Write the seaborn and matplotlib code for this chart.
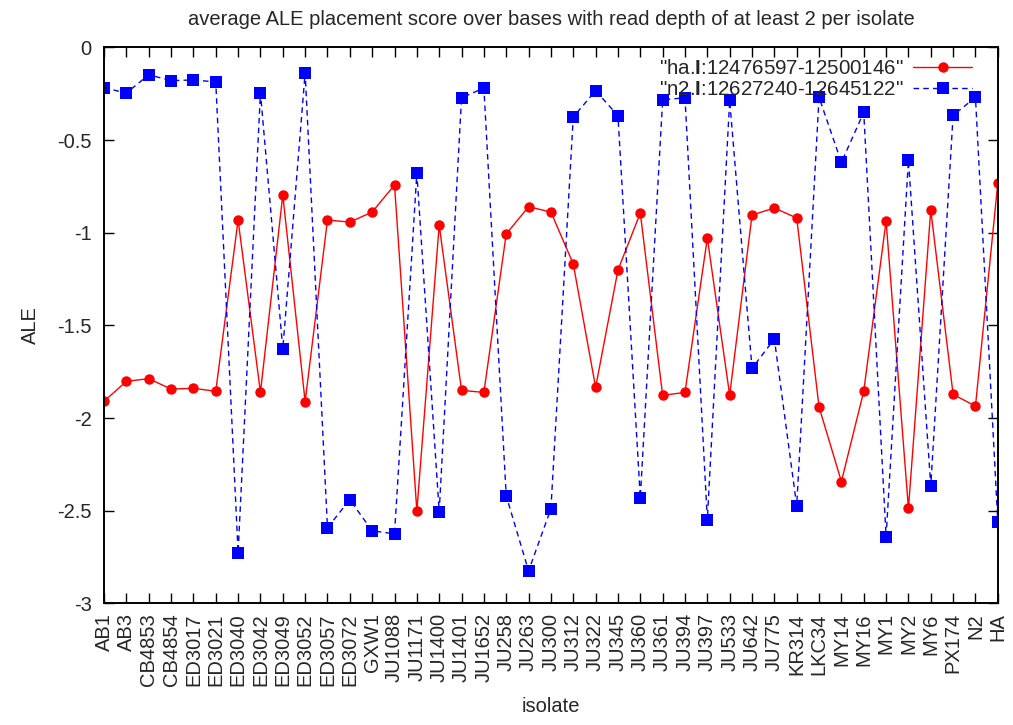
import matplotlib
matplotlib.use("Agg")
import matplotlib.pyplot as plt
import seaborn as sns
import pandas as pd

isolates = ["AB1", "AB3", "CB4853", "CB4854", "ED3017", "ED3021", "ED3040",
            "ED3042", "ED3049", "ED3052", "ED3057", "ED3072", "GXW1", "JU1088",
            "JU1171", "JU1400", "JU1401", "JU1652", "JU258", "JU263", "JU300",
            "JU312", "JU322", "JU345", "JU360", "JU361", "JU394", "JU397",
            "JU533", "JU642", "JU775", "KR314", "LKC34", "MY14", "MY16", "MY1",
            "MY2", "MY6", "PX174", "N2", "HA"]

ha_ale = [-1.909, -1.801, -1.787, -1.843, -1.839, -1.855, -0.931,
          -1.861, -0.796, -1.911, -0.931, -0.942, -0.888, -0.742,
          -2.501, -0.958, -1.850, -1.861, -1.006, -0.859, -0.888,
          -1.168, -1.834, -1.201, -0.893, -1.877, -1.861, -1.028,
          -1.876, -0.904, -0.866, -0.920, -1.940, -2.342, -1.855, -0.936,
          -2.487, -0.877, -1.872, -1.935, -0.732]

n2_ale = [-0.217, -0.246, -0.147, -0.179, -0.175, -0.186, -2.726,
          -0.244, -1.627, -0.136, -2.591, -2.440, -2.608, -2.624,
          -0.677, -2.505, -0.271, -0.219, -2.419, -2.824, -2.489,
          -0.375, -0.233, -0.368, -2.430, -0.283, -0.271, -2.548,
          -0.285, -1.731, -1.573, -2.473, -0.269, -0.620, -0.350, -2.640,
          -0.608, -2.365, -0.366, -0.269, -2.559]

ha_label = '"ha.$\\mathbf{I}$:12476597-12500146"'
n2_label = '"n2.$\\mathbf{I}$:12627240-12645122"'

sns.set_style("ticks")
plt.rcParams["font.family"] = ["Liberation Sans", "DejaVu Sans"]
plt.rcParams["mathtext.fontset"] = "custom"
plt.rcParams["mathtext.rm"] = "Liberation Sans"
plt.rcParams["mathtext.bf"] = "Liberation Sans:bold"

df = pd.DataFrame({"isolate": isolates, "ha": ha_ale, "n2": n2_ale})

fig = plt.figure(figsize=(10.13, 7.25), dpi=100)
ax = fig.add_axes([0.1027, 0.1676, 0.8823, 0.7669])

sns.lineplot(data=df, x="isolate", y="ha", ax=ax, color="#ff0000",
             linewidth=1.0, marker="o", markersize=7.5, markeredgewidth=0,
             label=ha_label, sort=False)
sns.lineplot(data=df, x="isolate", y="n2", ax=ax, color="#0000ff",
             linewidth=1.0, linestyle=(0, (4, 3)), marker="s", markersize=8.5,
             markeredgewidth=0, label=n2_label, sort=False)

ax.set_xlim(0, len(isolates) - 1)
ax.set_ylim(-3, 0)
ax.set_yticks([0, -0.5, -1, -1.5, -2, -2.5, -3])
ax.set_yticklabels(["0", "-0.5", "-1", "-1.5", "-2", "-2.5", "-3"])
ax.set_xticks(range(len(isolates)))
ax.set_xticklabels(isolates, rotation=90)

ax.tick_params(axis="both", direction="in", length=7, width=1.0,
               labelsize=14.5, top=True, right=True, color="black")
ax.tick_params(axis="x", pad=7)
ax.tick_params(axis="y", pad=9)
for side in ax.spines.values():
    side.set_linewidth(1.4)
    side.set_color("black")

ax.set_xlabel("isolate", fontsize=14.5, labelpad=8)
ax.set_ylabel("ALE", fontsize=14.5, labelpad=12)
ax.set_title("average ALE placement score over bases with read depth of at least 2 per isolate",
             fontsize=14.5, pad=16)

leg = ax.legend(loc="upper right", bbox_to_anchor=(0.987, 1.005), frameon=False,
                markerfirst=False, fontsize=14.8, handlelength=2.85,
                handletextpad=0.5, labelspacing=0.1, borderaxespad=0.3)

fig.savefig("out.png", dpi=100)
